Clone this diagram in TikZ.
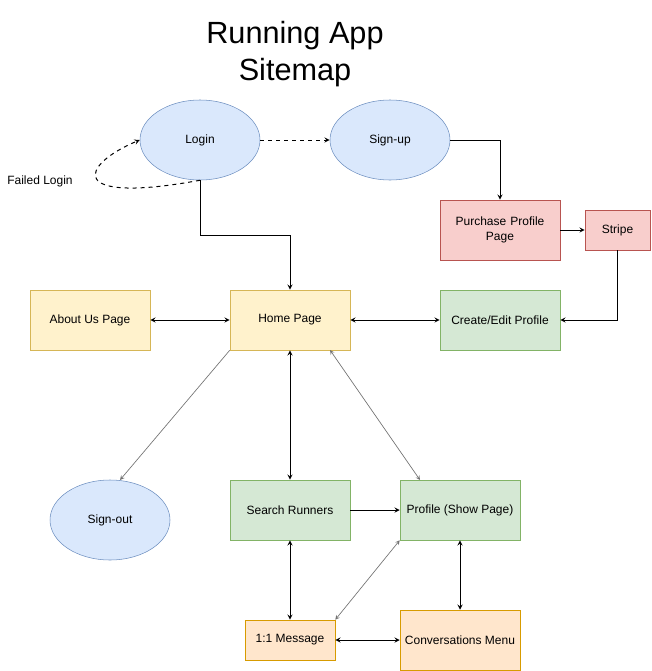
\documentclass[tikz,border=0pt]{standalone}
\usepackage{fontspec}
\setmainfont{Liberation Sans}
\usepackage{xcolor}
\usepackage{tikz}
\usetikzlibrary{shapes,arrows,positioning,calc}

\definecolor{bluefill}{HTML}{DAE8FC}
\definecolor{blueline}{HTML}{6C8EBF}
\definecolor{yellowfill}{HTML}{FFF2CC}
\definecolor{yellowline}{HTML}{D6B656}
\definecolor{greenfill}{HTML}{D5E8D4}
\definecolor{greenline}{HTML}{82B366}
\definecolor{redfill}{HTML}{F8CECC}
\definecolor{redline}{HTML}{B85450}
\definecolor{orangefill}{HTML}{FFE6CC}
\definecolor{orangeline}{HTML}{D79B00}

\begin{document}
\begin{tikzpicture}[x=0.75pt, y=-0.75pt,
    screen/.style={ellipse, draw=blueline, fill=bluefill, minimum width=90pt, minimum height=60pt, font=\fontsize{9}{11}\selectfont},
    page/.style={rectangle, draw=yellowline, fill=yellowfill, minimum width=90pt, minimum height=45pt, align=center, font=\fontsize{9}{11}\selectfont},
    profile/.style={page, draw=greenline, fill=greenfill},
    payment/.style={page, draw=redline, fill=redfill},
    chat/.style={page, draw=orangeline, fill=orangefill},
    link/.style={->, >=stealth, line width=0.75pt},
    twoway/.style={<->, >=stealth, line width=0.75pt},
    faint/.style={<->, >=stealth, line width=0.5pt, gray!90!black},
    title_text/.style={align=center, font=\fontsize{23}{27.5}\selectfont}
]
\useasboundingbox (0,0) rectangle (651,671);

% --- Title ---
\node[title_text] (Title) at (295,54) {Running App\\Sitemap};

% --- Entry: login / sign-up ---
\node[screen] (Login) at (200,140) {Login};
\node[screen] (Signup) at (390,140) {Sign-up};
\node[font=\fontsize{9}{11}\selectfont] (Failed) at (40,181) {Failed Login};

\node[payment, text width=80pt] (Purchase) at (500,230) {Purchase Profile\\Page};
\node[payment, minimum width=48.75pt, minimum height=30pt] (Stripe) at (617.5,230) {Stripe};

% --- Main row ---
\node[page] (About) at (90,320) {About Us Page};
\node[page] (Home) at (290,320) {Home Page};
\node[profile] (Create) at (500,320) {Create/Edit Profile};

% --- Lower pages ---
\node[screen] (Signout) at (110,520) {Sign-out};
\node[profile] (Search) at (290,510) {Search Runners};
\node[profile] (Show) at (460,510) {Profile (Show Page)};
\node[chat, minimum width=67.5pt, minimum height=30pt] (Message) at (290,640) {1:1 Message};
\node[chat] (Convo) at (460,640) {Conversations Menu};

% Flow from login
\draw[link, dashed] (Login) -- (Signup);
\draw[link, dashed] (Login.south) .. controls (65,205) and (80,165) .. (Login.west);
\draw[link] (Login.south) |- (290,235) -- (Home);
\draw[link] (Signup.east) -| (Purchase);
\draw[link] (Purchase) -- (Stripe);
\coordinate (Turn) at (Stripe.south |- Create.east);
\draw[link] (Stripe.south) -- (Turn) -- (Create.east);

% Home connections
\draw[twoway] (About) -- (Home);
\draw[twoway] (Home) -- (Create);
\draw[twoway] (Home) -- (Search);
\draw[->, >=stealth, line width=0.5pt, gray!90!black] (Home.south west) -- (120,480);
\draw[faint] (330,350) -- (420,480);

% Lower connections
\draw[link] (Search) -- (Show);
\draw[twoway] (Search) -- (Message);
\draw[faint] (Show.south west) -- (Message.north east);
\draw[twoway] (Show) -- (Convo);
\draw[twoway] (Message) -- (Convo);

\end{tikzpicture}
\end{document}
